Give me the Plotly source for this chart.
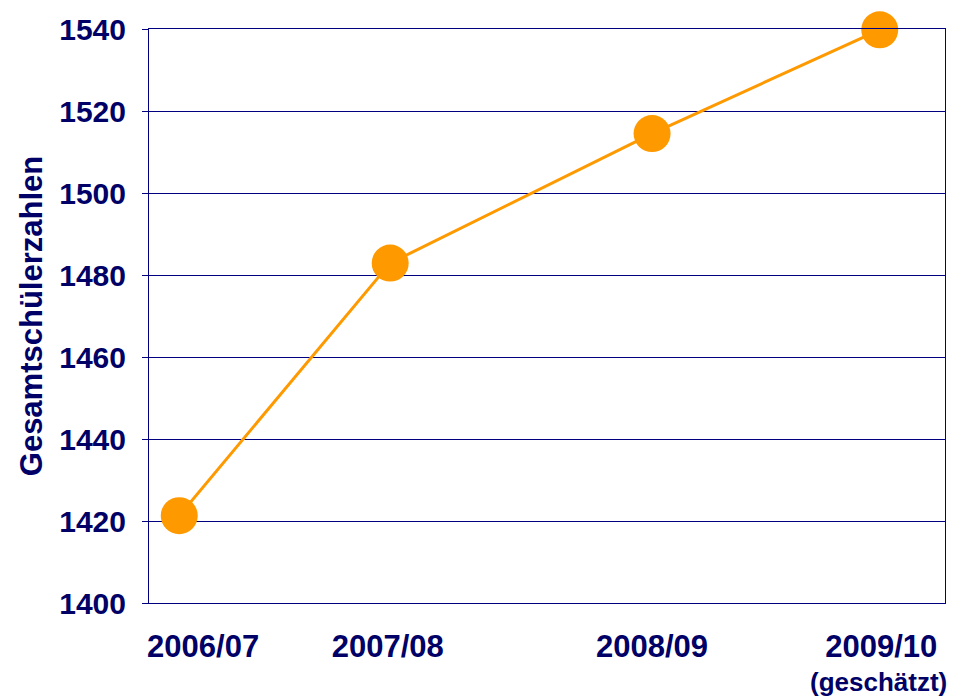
import plotly.graph_objects as go

# Data
school_years = ["2006/07", "2007/08", "2008/09", "2009/10"]
x_positions = [3.8, 30.3, 63.2, 91.8]          # horizontal placement of the points (axis units 0..100)
label_positions = [6.8, 30.0, 63.2, 92.0]      # horizontal placement of the year labels
student_totals = [1421.3, 1482.9, 1514.5, 1539.8]
y_ticks = [1400, 1420, 1440, 1460, 1480, 1500, 1520, 1540]
estimate_note = "(geschätzt)"

NAVY = "#000066"
GRID = "#000080"
ORANGE = "#FF9900"
FONT = "Liberation Sans, Arial, sans-serif"

fig = go.Figure()
fig.add_trace(go.Scatter(
    x=x_positions, y=student_totals, mode="lines+markers",
    line=dict(color=ORANGE, width=3),
    marker=dict(color=ORANGE, size=37, line=dict(width=0)),
    cliponaxis=False, showlegend=False, hoverinfo="y",
))

fig.add_annotation(
    x=91.6, y=0, xref="x", yref="paper",
    text=estimate_note, showarrow=False, yanchor="top", yshift=-62,
    font=dict(family=FONT, size=26, color=NAVY, weight="bold"),
)

fig.update_layout(
    width=971, height=696,
    margin=dict(l=149, r=26, t=20, b=93),
    paper_bgcolor="white", plot_bgcolor="white",
    font=dict(family=FONT, color=NAVY),
    xaxis=dict(
        range=[0, 100], tickmode="array", tickvals=label_positions, ticktext=school_years,
        showgrid=False, zeroline=False, showline=True, mirror=True, linecolor=GRID, linewidth=1,
        ticks="", ticklabelstandoff=16,
        tickfont=dict(family=FONT, size=31, color=NAVY, weight="bold"),
    ),
    yaxis=dict(
        range=[1400, 1540], tickmode="array", tickvals=y_ticks,
        showgrid=True, gridcolor=GRID, gridwidth=1, zeroline=False,
        showline=True, mirror=True, linecolor=GRID, linewidth=1,
        ticks="outside", ticklen=6, tickcolor=GRID, ticklabelstandoff=10,
        tickfont=dict(family=FONT, size=30, color=NAVY, weight="bold"),
        title=dict(text="Gesamtschülerzahlen", standoff=7,
                   font=dict(family=FONT, size=31, color=NAVY, weight="bold")),
    ),
)

fig.write_html("out.html", config={"displayModeBar": False},
               post_script="document.body.style.margin='0';document.body.style.overflow='hidden';")
